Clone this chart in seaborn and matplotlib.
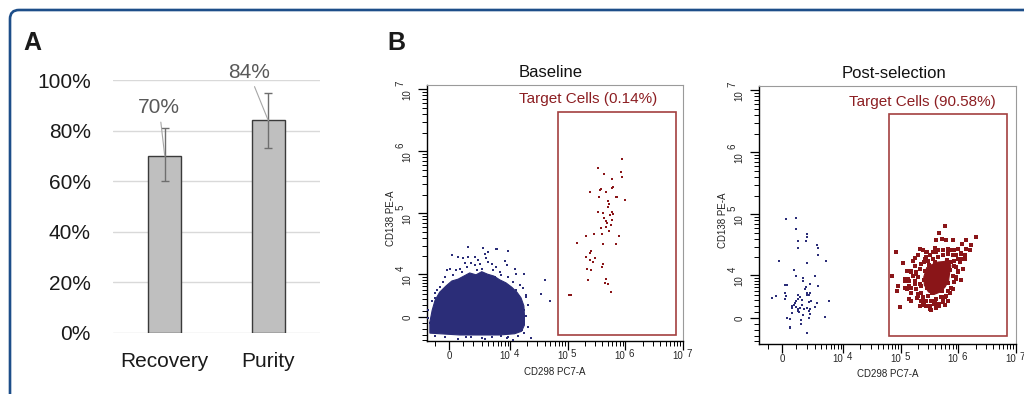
import numpy as np
import matplotlib
matplotlib.use("Agg")
import matplotlib.pyplot as plt
import seaborn as sns
from matplotlib.patches import Rectangle, FancyBboxPatch
from matplotlib.transforms import IdentityTransform

# ---- panel A: bar chart ----
bar_labels = ["Recovery", "Purity"]
bar_values = [70, 84]
bar_err_low = [10, 11]
bar_err_high = [11, 11]

# ---- panel B: flow plots, values in display channel units (biexponential) ----
# Baseline: dense CD298-/CD138- population outline + scattered events
base_blob_x = [-0.33, -0.33, -0.29, -0.24, -0.16, -0.05, 0.05, 0.16, 0.26, 0.36,
               0.47, 0.57, 0.67, 0.78, 0.88, 0.99, 1.09, 1.18, 1.25, 1.30,
               1.31, 1.31, 1.26, 1.14, 0.88, 0.54, 0.19, -0.16]
base_blob_y = [-0.26, -0.08, 0.11, 0.27, 0.40, 0.50, 0.58, 0.61, 0.66, 0.71,
               0.68, 0.73, 0.69, 0.66, 0.60, 0.55, 0.48, 0.40, 0.31, 0.18,
               0.03, -0.13, -0.23, -0.27, -0.29, -0.29, -0.29, -0.27]
base_other_x = [0.33, 0.59, 0.81, 0.84, 0.68, 0.62, 1.03, 0.05, 0.16, 0.25,
                0.33, 0.45, 0.51, 0.65, 0.68, 0.97, 1.00, 1.14, 1.17, 1.31,
                0.82, 0.88, -0.04, 0.02, 0.13, 0.19, 0.28, 0.31, 0.39, 0.45,
                0.54, 0.74, 0.77, 0.22, -0.10, -0.16, -0.21, -0.24, 1.03, 1.11,
                1.23, 1.29, 1.34, 1.17, -0.07, 0.07, 0.91, 0.80, 0.48, 0.57,
                1.34, 1.37, 1.31, 1.34, 1.29, 1.37, 1.26, 1.31, 1.20, 1.03,
                0.91, 0.74, 0.57, 0.39, 0.16, -0.07, -0.24, -0.33, -0.37, -0.36,
                -0.30, -0.24, 1.11, 1.43, 1.66, 1.60, 1.75, 0.30, 0.62, 1.00]
base_other_y = [1.13, 1.12, 1.10, 1.10, 1.05, 1.02, 1.06, 1.00, 0.97, 0.95,
                0.96, 0.97, 0.92, 0.95, 0.89, 0.90, 0.84, 0.78, 0.70, 0.70,
                0.81, 0.73, 0.76, 0.78, 0.76, 0.78, 0.87, 0.81, 0.87, 0.84,
                0.85, 0.85, 0.76, 0.73, 0.57, 0.49, 0.44, 0.38, 0.65, 0.57,
                0.52, 0.46, 0.35, 0.44, 0.65, 0.68, 0.68, 0.65, 0.76, 0.77,
                0.33, 0.19, 0.11, 0.01, -0.08, -0.16, -0.21, -0.26, -0.31, -0.33,
                -0.31, -0.32, -0.34, -0.33, -0.35, -0.32, -0.30, -0.10, -0.02, 0.11,
                0.25, 0.30, -0.37, -0.34, 0.59, 0.37, 0.26, -0.33, -0.35, -0.34]
base_target_x = [3.00, 2.59, 2.69, 2.99, 3.00, 2.83, 2.84, 2.83, 2.45, 2.62,
                 2.64, 2.72, 2.90, 2.92, 2.60, 3.06, 2.76, 2.77, 2.82, 2.76,
                 2.59, 2.68, 2.84, 2.80, 2.69, 2.73, 2.74, 2.82, 2.81, 2.73,
                 2.63, 2.77, 2.65, 2.51, 2.37, 2.95, 2.23, 2.68, 2.89, 2.46,
                 2.45, 2.37, 2.54, 2.44, 2.68, 2.50, 2.65, 2.40, 2.46, 2.72,
                 2.42, 2.70, 2.76, 2.81, 2.09, 2.12]
base_target_y = [2.54, 2.41, 2.31, 2.34, 2.26, 2.22, 2.10, 2.08, 2.02, 2.05,
                 2.06, 2.01, 1.94, 1.94, 1.94, 1.88, 1.87, 1.82, 1.70, 1.78,
                 1.69, 1.67, 1.66, 1.65, 1.59, 1.55, 1.52, 1.56, 1.48, 1.45,
                 1.43, 1.39, 1.34, 1.34, 1.30, 1.31, 1.20, 1.17, 1.17, 1.07,
                 1.03, 0.96, 0.95, 0.92, 0.86, 0.88, 0.81, 0.77, 0.75, 0.62,
                 0.60, 0.55, 0.53, 0.41, 0.36, 0.36]

# Post-selection
post_other_x = [0.07, 0.24, 0.24, 0.43, 0.44, 0.27, 0.42, 0.60, 0.63, 0.27,
                0.63, -0.05, 0.43, 0.76, 0.20, 0.24, 0.57, 0.37, 0.37, 0.48,
                0.62, 0.41, 0.39, 0.05, 0.09, 0.44, 0.48, 0.47, 0.43, 0.05,
                0.07, -0.10, -0.18, 0.05, 0.28, 0.31, 0.27, 0.34, 0.24, 0.50,
                0.46, 0.81, 0.60, 0.22, 0.17, 0.20, 0.17, 0.32, 0.38, 0.44,
                0.48, 0.57, 0.28, 0.29, 0.17, 0.46, 0.48, 0.36, 0.74, 0.09,
                0.14, 0.33, 0.33, 0.47, 0.14, 0.13, 0.44, 0.27, 0.24, 0.34]
post_other_y = [1.60, 1.61, 1.44, 1.35, 1.31, 1.24, 1.24, 1.18, 1.13, 1.13,
                1.02, 0.92, 0.88, 0.92, 0.77, 0.68, 0.68, 0.65, 0.60, 0.55,
                0.52, 0.50, 0.47, 0.53, 0.53, 0.40, 0.40, 0.37, 0.37, 0.40,
                0.36, 0.35, 0.32, 0.30, 0.37, 0.34, 0.31, 0.29, 0.27, 0.27,
                0.26, 0.27, 0.24, 0.24, 0.19, 0.21, 0.16, 0.16, 0.14, 0.16,
                0.15, 0.18, 0.11, 0.10, 0.08, 0.11, 0.06, 0.04, 0.02, 0.00,
                -0.02, -0.03, -0.09, 0.00, -0.15, -0.16, -0.24, 0.15, 0.18, 0.21]
post_core_x = [2.51, 2.60, 2.70, 2.81, 2.89, 2.93, 2.91, 2.89, 2.83, 2.75,
               2.64, 2.54, 2.47, 2.46]
post_core_y = [0.81, 0.86, 0.90, 0.91, 0.93, 0.84, 0.74, 0.60, 0.50, 0.42,
               0.38, 0.42, 0.53, 0.66]
post_target_x = [2.82, 2.73, 2.68, 2.77, 2.85, 2.96, 3.19, 3.37, 3.12, 3.28,
                 2.65, 2.70, 2.40, 2.45, 2.52, 2.62, 2.79, 2.88, 2.99, 3.10,
                 3.17, 3.27, 3.06, 3.11, 1.97, 2.10, 2.27, 2.30, 2.24, 2.16,
                 2.13, 2.21, 1.91, 2.01, 2.00, 2.14, 2.23, 2.36, 2.20, 2.24,
                 2.39, 2.50, 2.56, 2.59, 2.68, 2.82, 2.79, 2.88, 2.94, 3.02,
                 3.11, 3.14, 3.05, 3.02, 2.04, 2.30, 2.33, 2.47, 2.73, 2.83,
                 2.64, 2.42, 2.35, 3.08, 2.98, 2.36, 2.30, 2.50, 2.94, 2.39,
                 2.42, 2.53, 2.66, 2.97, 2.36, 2.47,
                 2.42, 2.39, 2.33, 2.36, 2.30, 2.39, 2.33, 2.42, 2.45, 2.50,
                 2.59, 2.68, 2.76, 2.85, 2.91, 2.96, 2.99, 3.02, 3.05, 3.02,
                 2.99, 2.96, 2.88, 2.79, 2.70, 2.62, 2.53, 2.47, 2.27, 2.21,
                 2.24, 2.36, 2.56, 2.65, 2.79, 2.88, 3.08, 3.11, 3.17, 3.19,
                 3.05, 2.24, 2.19, 2.13, 2.16, 2.45, 2.73, 2.48, 2.56, 2.68,
                 2.88, 2.94, 2.45, 2.50,
                 2.48, 2.52, 2.60, 2.78, 2.88, 2.92, 2.86, 2.66, 2.55, 2.47]
post_target_y = [1.49, 1.37, 1.25, 1.27, 1.25, 1.25, 1.26, 1.31, 1.19, 1.17,
                 1.12, 1.09, 1.11, 1.10, 1.06, 1.06, 1.10, 1.06, 1.10, 1.04,
                 1.02, 1.09, 0.95, 0.95, 1.06, 0.88, 0.92, 0.84, 0.74, 0.75,
                 0.63, 0.60, 0.67, 0.52, 0.44, 0.48, 0.49, 0.39, 0.30, 0.28,
                 0.20, 0.19, 0.15, 0.13, 0.16, 0.21, 0.31, 0.44, 0.49, 0.63,
                 0.62, 0.79, 0.76, 1.01, 0.17, 0.55, 0.71, 0.21, 0.23, 0.34,
                 0.23, 0.28, 0.32, 0.92, 0.84, 1.02, 0.96, 0.98, 0.90, 0.79,
                 0.52, 0.36, 0.28, 0.68, 0.66, 0.28,
                 0.87, 0.79, 0.74, 0.66, 0.60, 0.55, 0.47, 0.41, 0.33, 0.28,
                 0.28, 0.31, 0.33, 0.36, 0.41, 0.47, 0.58, 0.66, 0.74, 0.82,
                 0.92, 1.01, 1.03, 1.01, 0.98, 0.95, 0.92, 0.90, 0.68, 0.52,
                 0.41, 0.36, 0.20, 0.23, 0.25, 0.28, 0.90, 1.03, 0.95, 1.11,
                 1.11, 0.76, 0.63, 0.60, 0.47, 0.23, 0.20, 0.95, 1.01, 1.06,
                 1.11, 1.09, 1.09, 1.06,
                 0.75, 0.48, 0.40, 0.44, 0.56, 0.78, 0.93, 0.90, 0.85, 0.62]

# gates: [x0, x1, y0, y1] in channel units
base_gate = [1.89, 3.93, -0.29, 3.31]
post_gate = [1.85, 3.91, -0.29, 3.29]
base_pct = "Target Cells (0.14%)"
post_pct = "Target Cells (90.58%)"

navy = "#2B2D78"
dark_red = "#8A1518"
gate_col = "#A3403F"


def chan_x(v):
    return np.arcsinh(np.asarray(v, dtype=float) / 1750) / np.log(10)


def chan_y(v):
    return np.arcsinh(np.asarray(v, dtype=float) / 4250) / np.log(10)


def flow_axis(ax, xlim, ylim):
    majors = [0, 1e4, 1e5, 1e6, 1e7]
    minors = [k * 1000 for k in range(-4, 10) if k != 0]
    minors += [k * 10 ** n for n in (4, 5, 6) for k in range(2, 10)]
    mx = [c for c in chan_x(minors) if xlim[0] <= c <= xlim[1]]
    my = [c for c in chan_y(minors) if ylim[0] <= c <= ylim[1]]
    ax.set_xticks(chan_x(majors))
    ax.set_xticks(mx, minor=True)
    ax.set_yticks(chan_y(majors))
    ax.set_yticks(my, minor=True)
    ax.set_xlim(xlim)
    ax.set_ylim(ylim)
    ax.set_xticklabels([])
    ax.set_yticklabels([])
    ax.tick_params(which="major", length=6.5, width=0.9, color="black", direction="out")
    ax.tick_params(which="minor", length=3.5, width=0.7, color="black", direction="out")
    ax.tick_params(bottom=True, left=True, which="both")
    for s in ["bottom", "left"]:
        ax.spines[s].set_color("black")
        ax.spines[s].set_linewidth(1.0)
    for s in ["top", "right"]:
        ax.spines[s].set_color("#9A9A9A")
        ax.spines[s].set_linewidth(0.8)
    fs = 7
    for i, m in enumerate(majors):
        cx = float(chan_x(m))
        cy = float(chan_y(m))
        if i == 0:
            ax.annotate("0", xy=(cx, 0), xycoords=("data", "axes fraction"),
                        xytext=(0, -7.5), textcoords="offset points",
                        ha="center", va="top", fontsize=fs)
            ax.annotate("0", xy=(0, cy), xycoords=("axes fraction", "data"),
                        xytext=(-10.5, 0), textcoords="offset points",
                        ha="center", va="bottom", rotation=90,
                        rotation_mode="anchor", fontsize=fs)
            continue
        e = str(int(round(np.log10(m))))
        ax.annotate("10", xy=(cx, 0), xycoords=("data", "axes fraction"),
                    xytext=(0, -7.5), textcoords="offset points",
                    ha="right", va="top", fontsize=fs)
        ax.annotate(e, xy=(cx, 0), xycoords=("data", "axes fraction"),
                    xytext=(2.5, -5.5), textcoords="offset points",
                    ha="left", va="top", fontsize=fs)
        ax.annotate("10", xy=(0, cy), xycoords=("axes fraction", "data"),
                    xytext=(-10.5, 0), textcoords="offset points",
                    ha="right", va="bottom", rotation=90,
                    rotation_mode="anchor", fontsize=fs)
        ax.annotate(e, xy=(0, cy), xycoords=("axes fraction", "data"),
                    xytext=(-15.5, 2.5), textcoords="offset points",
                    ha="left", va="bottom", rotation=90,
                    rotation_mode="anchor", fontsize=fs)


sns.set_theme(style="white")
plt.rcParams["font.family"] = ["Liberation Sans", "DejaVu Sans"]

fig = plt.figure(figsize=(10.24, 3.94), dpi=100)

# rounded frame
frame = FancyBboxPatch((10, -30), 1060, 394 - 10 + 30,
                       boxstyle="round,pad=0,rounding_size=9",
                       transform=IdentityTransform(), fill=False,
                       edgecolor="#1D4E89", linewidth=1.9)
fig.patches.append(frame)

fig.text(23 / 1024, 1 - 50 / 394, "A", fontsize=18, fontweight="bold", color="#1a1a1a")
fig.text(387 / 1024, 1 - 50 / 394, "B", fontsize=18, fontweight="bold", color="#1a1a1a")

# ---- A ----
axA = fig.add_axes([113 / 1024, 1 - 333 / 394, 207 / 1024, 253 / 394])
sns.barplot(x=bar_labels, y=bar_values, color="#BFBFBF", saturation=1,
            edgecolor="#3A3A3A", linewidth=1.0, width=0.32, errorbar=None, ax=axA)
pos = list(range(len(bar_labels)))
axA.errorbar(pos, bar_values, yerr=[bar_err_low, bar_err_high], fmt="none",
             ecolor="#6E6E6E", elinewidth=1.0, capsize=3, capthick=1.0)
axA.set_ylim(0, 100)
axA.set_xlim(-0.5, 1.5)
axA.set_yticks(range(0, 101, 20))
axA.set_yticklabels([f"{v}%" for v in range(0, 101, 20)])
axA.yaxis.grid(True, color="#D9D9D9", linewidth=1.0)
axA.set_axisbelow(True)
for s in axA.spines.values():
    s.set_visible(False)
axA.tick_params(axis="y", labelsize=15, pad=16, length=0, labelcolor="#1a1a1a")
axA.tick_params(axis="x", labelsize=15, pad=14, length=0, labelcolor="#1a1a1a")
axA.set_xlabel("")
axA.set_ylabel("")
label_offsets = [(-4, 34.5), (-14, 34.5)]
for p, v, off in zip(pos, bar_values, label_offsets):
    axA.annotate(f"{v}%", xy=(p, v), xytext=off, textcoords="offset points",
                 ha="center", va="center", fontsize=15, color="#595959",
                 annotation_clip=False,
                 arrowprops=dict(arrowstyle="-", color="#A6A6A6", lw=0.8,
                                 shrinkA=1, shrinkB=0))


# ---- B ----
def flow_panel(rect, title, title_x, blob_x, blob_y, blob_col, ox, oy, ocol,
               tx, ty, tsize, gate, gate_text, text_x, text_y, xl_y, yl_x):
    ax = fig.add_axes(rect)
    ax.fill(blob_x, blob_y, color=blob_col, linewidth=0.8, edgecolor=blob_col, zorder=2)
    sns.scatterplot(x=ox, y=oy, color=ocol, marker="s", s=4, linewidth=0,
                    ax=ax, zorder=3)
    sns.scatterplot(x=tx, y=ty, color=dark_red, marker="s", s=tsize, linewidth=0,
                    ax=ax, zorder=3)
    ax.add_patch(Rectangle((gate[0], gate[2]), gate[1] - gate[0], gate[3] - gate[2],
                           fill=False, edgecolor=gate_col, linewidth=1.2, zorder=4))
    ax.text(text_x, text_y, gate_text, transform=ax.transAxes, ha="center",
            va="center", fontsize=11, color="#8C1E22")
    ax.text(title_x, 1.047, title, transform=ax.transAxes, ha="center",
            va="center", fontsize=12, color="#111111")
    ax.text(0.5, xl_y, "CD298 PC7-A", transform=ax.transAxes, ha="center",
            va="center", fontsize=7, color="#222222")
    ax.text(yl_x, 0.48, "CD138 PE-A", transform=ax.transAxes, ha="center",
            va="center", fontsize=7, rotation=90, color="#222222")
    return ax


axB = flow_panel([427 / 1024, 1 - 341 / 394, 256 / 1024, 256 / 394], "Baseline", 0.484,
                 base_blob_x, base_blob_y, navy, base_other_x, base_other_y, navy,
                 base_target_x, base_target_y, 4, base_gate, base_pct, 0.629, 0.945,
                 -0.121, -0.141)
flow_axis(axB, (-0.38, 4.06), (-0.387, 3.74))

axC = flow_panel([759 / 1024, 1 - 344 / 394, 257 / 1024, 258 / 394], "Post-selection", 0.527,
                 post_core_x, post_core_y, dark_red, post_other_x, post_other_y, navy,
                 post_target_x, post_target_y, 5.5, post_gate, post_pct, 0.634, 0.938,
                 -0.116, -0.142)
flow_axis(axC, (-0.40, 4.06), (-0.42, 3.74))

fig.savefig("out.png", dpi=100)
plt.close("all")
